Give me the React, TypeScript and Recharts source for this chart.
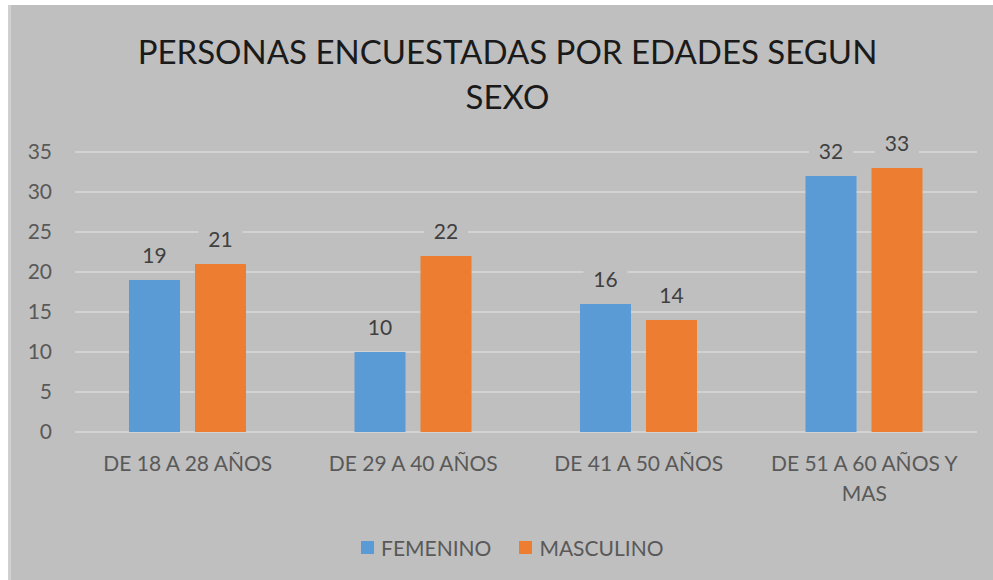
import React from 'react';
import { BarChart, Bar, XAxis, YAxis, CartesianGrid, LabelList } from 'recharts';

const categories = ['DE 18 A 28 AÑOS', 'DE 29 A 40 AÑOS', 'DE 41 A 50 AÑOS', 'DE 51 A 60 AÑOS Y MAS'];
const femenino = [19, 10, 16, 32];
const masculino = [21, 22, 14, 33];
const yTicks = [0, 5, 10, 15, 20, 25, 30, 35];

const series = [
  { key: 'femenino', name: 'FEMENINO', color: '#5B9BD5' },
  { key: 'masculino', name: 'MASCULINO', color: '#ED7D31' },
];

const data = categories.map((label, i) => ({
  label,
  femenino: femenino[i],
  masculino: masculino[i],
}));

const FONT = 'Lato, "Open Sans", sans-serif';
const BG = '#BFBFBF';

// wrap words to a max width, measured with a canvas
let ctx: CanvasRenderingContext2D | null = null;
const wrapText = (str: string, maxWidth: number, font: string) => {
  if (!ctx) ctx = document.createElement('canvas').getContext('2d');
  if (!ctx) return [str];
  ctx.font = font;
  const lines: string[] = [];
  let line = '';
  str.split(' ').forEach((w) => {
    const test = line ? line + ' ' + w : w;
    if (line && ctx!.measureText(test).width > maxWidth) {
      lines.push(line);
      line = w;
    } else {
      line = test;
    }
  });
  if (line) lines.push(line);
  return lines;
};

const CategoryTick = (props: any) => {
  const { x, y, payload } = props;
  const lines = wrapText(String(payload.value), 205, '21px Lato');
  return (
    <text x={x} y={y + 24} textAnchor="middle" fill="#595959" fontSize={21} fontFamily={FONT}>
      {lines.map((l, i) => (
        <tspan key={i} x={x} dy={i === 0 ? '0.71em' : 30}>
          {l}
        </tspan>
      ))}
    </text>
  );
};

const ValueLabel = (props: any) => {
  const { x, y, width, value } = props;
  const cx = x + width / 2;
  const cy = y - 26;
  return (
    <g>
      <rect x={cx - 22} y={cy - 13} width={44} height={26} fill={BG} />
      <text
        x={cx}
        y={cy}
        textAnchor="middle"
        dominantBaseline="central"
        fill="#404040"
        fontSize={21}
        fontFamily={FONT}
      >
        {value}
      </text>
    </g>
  );
};

export default function App() {
  return (
    <div style={{ position: 'absolute', left: 0, top: 0, width: 993, height: 580, background: '#fff', overflow: 'hidden' }}>
      <div style={{ position: 'absolute', left: 8, top: 5, width: 985, height: 575, background: BG }}>
        <div style={{ position: 'absolute', left: 0, top: 0, width: 3, height: 575, background: '#D0D0D0' }} />
        <div
          style={{
            position: 'absolute',
            left: 7,
            top: 24,
            width: 985,
            textAlign: 'center',
            fontFamily: FONT,
            fontSize: 33,
            lineHeight: '45px',
            color: '#1A1A1A',
          }}
        >
          <div>PERSONAS ENCUESTADAS POR EDADES SEGUN</div>
          <div>SEXO</div>
        </div>

        <div style={{ position: 'absolute', left: 0, top: 0 }}>
          <BarChart
            width={985}
            height={575}
            data={data}
            margin={{ top: 147, right: 16, left: 0, bottom: 0 }}
            barSize={51}
            barGap={15}
          >
            <CartesianGrid vertical={false} stroke="#D9D9D9" strokeWidth={1.5} />
            <XAxis
              dataKey="label"
              axisLine={false}
              tickLine={false}
              tickSize={0}
              tickMargin={0}
              height={148}
              interval={0}
              tick={<CategoryTick />}
            />
            <YAxis
              domain={[0, 35]}
              ticks={yTicks}
              width={67}
              axisLine={false}
              tickLine={false}
              tickSize={0}
              tickMargin={23}
              tick={{ fill: '#595959', fontSize: 21, fontFamily: FONT }}
            />
            {series.map((s) => (
              <Bar key={s.key} dataKey={s.key} name={s.name} fill={s.color} isAnimationActive={false}>
                <LabelList dataKey={s.key} content={<ValueLabel />} />
              </Bar>
            ))}
          </BarChart>
        </div>

        <div
          style={{
            position: 'absolute',
            left: 353,
            top: 529,
            height: 26,
            display: 'flex',
            alignItems: 'center',
            fontFamily: FONT,
            fontSize: 21,
            color: '#595959',
          }}
        >
          {series.map((s, i) => (
            <div key={s.key} style={{ display: 'flex', alignItems: 'center', marginLeft: i === 0 ? 0 : 28 }}>
              <span style={{ display: 'inline-block', width: 13, height: 13, background: s.color, marginRight: 7 }} />
              <span>{s.name}</span>
            </div>
          ))}
        </div>
      </div>
    </div>
  );
}
